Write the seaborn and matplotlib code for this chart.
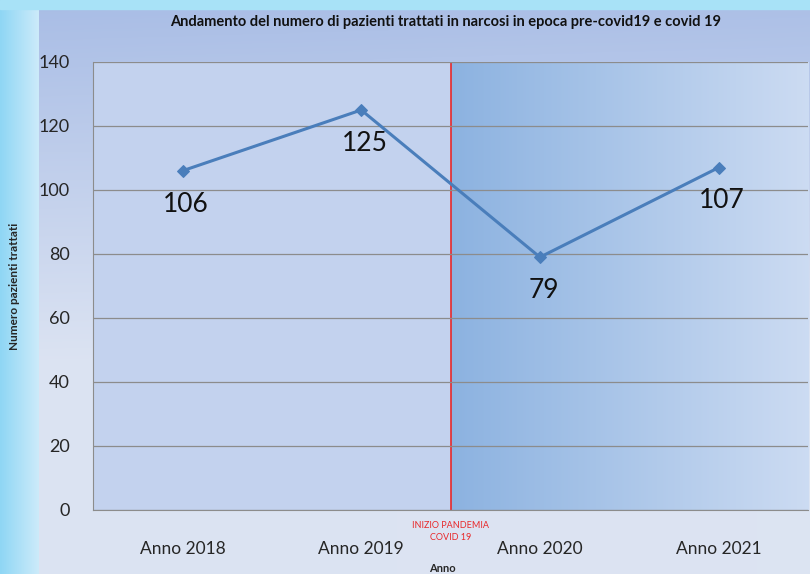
import numpy as np
import pandas as pd
import matplotlib
matplotlib.use("Agg")
import matplotlib.pyplot as plt
import seaborn as sns

# dati
anni = ["Anno 2018", "Anno 2019", "Anno 2020", "Anno 2021"]
pazienti = [106, 125, 79, 107]
y_ticks = [0, 20, 40, 60, 80, 100, 120, 140]

titolo = "Andamento del numero di pazienti trattati in narcosi in epoca pre-covid19 e covid 19"
etichetta_pandemia = "INIZIO PANDEMIA\nCOVID 19"

LINE_COLOR = "#4a7ebb"
GRID_COLOR = "#8c8c8c"
RED = "#e8282a"

sns.set_style("white")
plt.rcParams["font.family"] = ["Lato", "DejaVu Sans"]

df = pd.DataFrame({"anno": anni, "pazienti": pazienti})
df["pos"] = range(len(df))

fig = plt.figure(figsize=(8.1, 5.74), dpi=100)

# sfondo della figura (gradiente + bordo azzurro)
bg = fig.add_axes([0, 0, 1, 1], zorder=-10)
bg.set_axis_off()
h, w = 200, 300
yy = np.linspace(0, 1, h)[:, None]
xx = np.linspace(0, 1, w)[None, :]
top = np.array([0.66, 0.74, 0.90])
bottom = np.array([0.86, 0.89, 0.95])
t = np.clip(yy * 1.6, 0, 1)
img = top * (1 - t[..., None]) + bottom * t[..., None]
img = np.broadcast_to(img, (h, w, 3)).copy()
img = img * (1 - 0.04 * xx[..., None]) + 0.04 * xx[..., None]
bg.imshow(img, aspect="auto", extent=[0, 1, 0, 1])

# bordo sinistro sfumato
strip = np.linspace(0, 1, 50)[None, :]
s0 = np.array([0.56, 0.84, 0.96])
s1 = np.array([0.80, 0.92, 0.98])
strip_img = s0 * (1 - strip[..., None]) + s1 * strip[..., None]
bg.imshow(strip_img, aspect="auto", extent=[0, 0.048, 0, 1], zorder=2)
bg.axhspan(0.985, 1, color="#a8e2f7", zorder=2)
bg.set_xlim(0, 1)
bg.set_ylim(0, 1)

ax = fig.add_axes([0.115, 0.1115, 0.8825, 0.7805])
ax.set_facecolor("#c3d2ee")

# area pandemia con gradiente
grad = np.linspace(0, 1, 200)[None, :]
c0 = np.array([0.55, 0.70, 0.88])
c1 = np.array([0.80, 0.86, 0.95])
shade = c0 * (1 - grad[..., None]) + c1 * grad[..., None]
ax.imshow(shade, aspect="auto", extent=[1.5, 3.5, 0, 140], zorder=0)

ax.axvline(1.5, color=RED, linewidth=1.2, zorder=2)

sns.lineplot(data=df, x="pos", y="pazienti", ax=ax, color=LINE_COLOR,
             linewidth=2.2, marker="D", markersize=6,
             markeredgecolor=LINE_COLOR, zorder=4)

for x, v in zip(df["pos"], df["pazienti"]):
    ax.text(x + 0.02, v - 6.5, str(v), ha="center", va="top",
            fontsize=19, color="#111111")

ax.set_xlim(-0.5, 3.5)
ax.set_ylim(0, 140)
ax.set_yticks(y_ticks)
ax.set_yticklabels([str(v) for v in y_ticks], fontsize=13)
ax.yaxis.grid(True, color=GRID_COLOR, linewidth=0.9, zorder=1)
ax.set_axisbelow(False)
for line in ax.get_ygridlines():
    line.set_zorder(1)

ax.set_xticks(np.arange(-0.5, 3.6, 1.0))
ax.set_xticklabels([])
ax.set_xticks(df["pos"], minor=True)
ax.set_xticklabels(anni, minor=True, fontsize=12.5)
ax.tick_params(axis="x", which="major", length=5, color=GRID_COLOR, direction="out")
ax.tick_params(axis="x", which="minor", length=0, pad=22)
ax.tick_params(axis="y", length=5, color=GRID_COLOR, pad=12)

for s in ["top", "right"]:
    ax.spines[s].set_visible(False)
ax.spines["left"].set_color(GRID_COLOR)
ax.spines["bottom"].set_color(GRID_COLOR)

ax.set_xlabel("Anno", fontsize=8, fontweight="bold")
ax.xaxis.set_label_coords(0.488, -0.118)
ax.set_ylabel("Numero pazienti trattati", fontsize=8.5, fontweight="bold")
ax.yaxis.set_label_coords(-0.102, 0.5)

ax.text(1.5, -3.5, etichetta_pandemia, ha="center", va="top",
        fontsize=6.5, color=RED, linespacing=1.4)

fig.text(0.55, 0.962, titolo, ha="center", va="center",
         fontsize=10.5, fontweight="bold", color="#111111")

fig.savefig("out.png", dpi=100)
